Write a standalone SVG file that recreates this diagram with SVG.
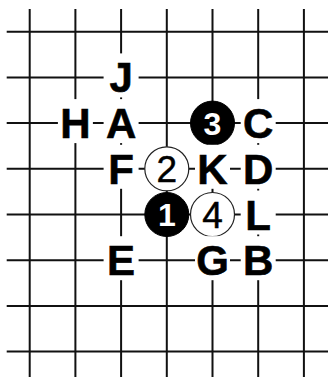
<svg xmlns="http://www.w3.org/2000/svg" width="328" height="377" viewBox="0 0 328 377">
<style>
.grid{stroke:#111;stroke-width:2;fill:none}
.mask{fill:#fff}
.lbl{font-family:"Liberation Sans",Arial,sans-serif;font-weight:bold;font-size:42px;fill:#000;stroke:#000;stroke-width:0.6;text-anchor:middle}
.bs{fill:#000;stroke:#000;stroke-width:1}
.ws{fill:#fff;stroke:#222;stroke-width:1.2}
.bn{font-family:"Liberation Sans",Arial,sans-serif;font-weight:bold;font-size:32px;fill:#fff;text-anchor:middle}
.wn{font-family:"Liberation Sans",Arial,sans-serif;font-size:37px;fill:#000;stroke:#000;stroke-width:0.5;text-anchor:middle}
</style>
<rect width="328" height="377" fill="#fff"/>
<g id="connectors">
<path class="grid" d="M6.7 31.7H328M6.7 77.4H328M6.7 123.1H328M6.7 168.8H328M6.7 214.5H328M6.7 260.2H328M6.7 305.9H328M6.7 351.6H328M29.7 9V377M75.4 9V377M121.1 9V377M166.8 9V377M212.5 9V377M258.2 9V377M303.9 9V377"/>
</g>
<g id="stone-1"><circle class="bs" cx="166.8" cy="214.5" r="22"/><text class="bn" x="166.8" y="226">1</text></g>
<g id="stone-2"><circle class="ws" cx="166.8" cy="168.8" r="22"/><text class="wn" x="166.8" y="182">2</text></g>
<g id="stone-3"><circle class="bs" cx="212.5" cy="123.1" r="22"/><text class="bn" x="212.5" y="134.6">3</text></g>
<g id="stone-4"><circle class="ws" cx="212.5" cy="214.5" r="22"/><text class="wn" x="212.5" y="227.7">4</text></g>
<g id="label-J"><rect class="mask" x="103.6" y="53.4" width="35" height="44"/><text class="lbl" x="121.1" y="92.4">J</text></g>
<g id="label-H"><rect class="mask" x="57.9" y="99.1" width="35" height="44"/><text class="lbl" x="75.4" y="138.1">H</text></g>
<g id="label-A"><rect class="mask" x="103.6" y="99.1" width="35" height="44"/><text class="lbl" x="121.1" y="138.1">A</text></g>
<g id="label-C"><rect class="mask" x="240.7" y="99.1" width="35" height="44"/><text class="lbl" x="258.2" y="138.1">C</text></g>
<g id="label-F"><rect class="mask" x="103.6" y="144.8" width="35" height="44"/><text class="lbl" x="121.1" y="183.8">F</text></g>
<g id="label-K"><rect class="mask" x="195" y="144.8" width="35" height="44"/><text class="lbl" x="212.5" y="183.8">K</text></g>
<g id="label-D"><rect class="mask" x="240.7" y="144.8" width="35" height="44"/><text class="lbl" x="258.2" y="183.8">D</text></g>
<g id="label-L"><rect class="mask" x="240.7" y="190.5" width="35" height="44"/><text class="lbl" x="258.2" y="229.5">L</text></g>
<g id="label-E"><rect class="mask" x="103.6" y="236.2" width="35" height="44"/><text class="lbl" x="121.1" y="275.2">E</text></g>
<g id="label-G"><rect class="mask" x="195" y="236.2" width="35" height="44"/><text class="lbl" x="212.5" y="275.2">G</text></g>
<g id="label-B"><rect class="mask" x="240.7" y="236.2" width="35" height="44"/><text class="lbl" x="258.2" y="275.2">B</text></g>
</svg>
